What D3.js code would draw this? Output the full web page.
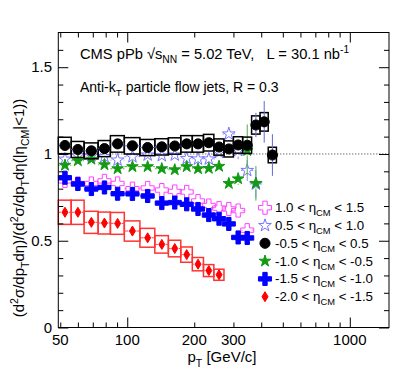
<!DOCTYPE html>
<html>
<head>
<meta charset="utf-8">
<script src="https://cdn.jsdelivr.net/npm/d3@7"></script>
<style>
  body { margin: 0; background: #fff; }
  svg { display: block; font-family: "Liberation Sans", Arial, Helvetica, sans-serif; }
</style>
</head>
<body>
<svg id="chart" width="399" height="383"></svg>
<script>
// pT bin edges (GeV/c)
var ptEdges = [49, 56, 64, 74, 84, 97, 114, 133, 153, 174, 196, 220, 245, 272, 300, 330, 362, 395, 430, 468];

// ratios to |eta_CM| < 1, one array per eta_CM window
var ratioP10 = [0.845, 0.83, 0.83, 0.845, 0.83, 0.80, 0.804, 0.792, 0.784, 0.781, 0.729, 0.703, 0.688, 0.683, 0.674, 0.561];
var errP10   = [0.005, 0.005, 0.005, 0.005, 0.005, 0.005, 0.005, 0.005, 0.005, 0.006, 0.007, 0.008, 0.01, 0.012, 0.015, 0.025];

var ratioP05 = [0.97, 0.99, 0.99, 0.985, 0.965, 0.984, 0.994, 0.99, 0.994, 0.974, 0.971, 0.971, 1.009, 1.115, 1.02, 0.905, 0.827];
var errP05   = [0.005, 0.005, 0.005, 0.005, 0.005, 0.005, 0.005, 0.005, 0.005, 0.006, 0.007, 0.008, 0.015, 0.04, 0.05, 0.06, 0.08];

var ratio0   = [1.049, 1.026, 1.018, 1.031, 1.058, 1.047, 1.037, 1.041, 1.046, 1.058, 1.058, 1.065, 1.040, 1.029, 1.052, 1.05, 1.167, 1.185, 0.994];
var err0     = [0.005, 0.005, 0.005, 0.005, 0.005, 0.005, 0.005, 0.005, 0.005, 0.006, 0.007, 0.008, 0.01, 0.012, 0.02, 0.03, 0.07, 0.12, 0.12];

var ratioM10 = [0.935, 0.961, 0.970, 0.938, 0.915, 0.927, 0.927, 0.915, 0.909, 0.927, 0.915, 0.917, 0.929, 0.830, 0.857, 1.020, 0.831];
var errM10   = [0.005, 0.005, 0.005, 0.005, 0.005, 0.005, 0.005, 0.005, 0.005, 0.006, 0.007, 0.008, 0.012, 0.03, 0.035, 0.15, 0.1];

var ratioM15 = [0.863, 0.827, 0.798, 0.807, 0.771, 0.770, 0.758, 0.717, 0.720, 0.710, 0.683, 0.648, 0.627, 0.597, 0.519, 0.516];
var errM15   = [0.005, 0.005, 0.005, 0.005, 0.005, 0.005, 0.005, 0.005, 0.005, 0.006, 0.007, 0.008, 0.01, 0.012, 0.02, 0.04];

var ratioM20 = [0.664, 0.664, 0.606, 0.602, 0.600, 0.556, 0.517, 0.479, 0.455, 0.420, 0.365, 0.328, 0.304];
var errM20   = [0.005, 0.005, 0.005, 0.005, 0.005, 0.005, 0.005, 0.005, 0.005, 0.006, 0.007, 0.008, 0.01];

// axis ticks
var xMinorTicks = [50, 60, 70, 80, 90, 200, 300, 400, 500, 600, 700, 800, 900];
var xMajorTicks = [100, 1000];
var xTickLabels = [50, 100, 200, 300, 1000];
var yMinorTicks = [0.1, 0.2, 0.3, 0.4, 0.6, 0.7, 0.8, 0.9, 1.1, 1.2, 1.3, 1.4, 1.6];
var yMajorTicks = [0, 0.5, 1, 1.5];

var legendLabels = [
  ["1.0 < \u03b7", "CM", " < 1.5"],
  ["0.5 < \u03b7", "CM", " < 1.0"],
  ["-0.5 < \u03b7", "CM", " < 0.5"],
  ["-1.0 < \u03b7", "CM", " < -0.5"],
  ["-1.5 < \u03b7", "CM", " < -1.0"],
  ["-2.0 < \u03b7", "CM", " < -1.5"]
];

var W = 399, H = 383;
var padL = 58.3, padR = 389, padT = 32.5, padB = 327.5;

var x = d3.scaleLog().domain([49, 1500]).range([padL, padR]);
var y = d3.scaleLinear().domain([0, 1.7]).range([padB, padT]);

var svg = d3.select('#chart');
svg.append('rect').attr('width', W).attr('height', H).attr('fill', '#fff');

// marker shapes
var shapes = {
  circle:  d3.symbol().type(d3.symbolCircle).size(80)(),
  cross:   d3.symbol().type(d3.symbolCross).size(95)(),
  ocross:  d3.symbol().type(d3.symbolCross).size(95)(),
  star:    d3.symbol().type(d3.symbolStar).size(50)(),
  fstar:   d3.symbol().type(d3.symbolStar).size(42)(),
  diamond: 'M0,-5L3,0L0,5L-3,0Z'
};

var series = [
  { vals: ratioP10, errs: errP10, shape: 'ocross', fill: 'none', stroke: '#ff44ff', line: '#ff77ff', gap: 6 },
  { vals: ratioP05, errs: errP05, shape: 'star', fill: 'none', stroke: '#7474ff', line: '#8a8aff', gap: 6 },
  { vals: ratioM10, errs: errM10, shape: 'fstar', fill: '#129a12', stroke: '#129a12', line: '#4fae4f', gap: 5 },
  { vals: ratioM15, errs: errM15, shape: 'cross', fill: '#0000ff', stroke: '#0000ff', line: '#3030ff', gap: 5 },
  { vals: ratioM20, errs: errM20, shape: 'diamond', fill: '#ff0000', stroke: '#ff0000', line: '#ff4444', gap: 4, sys: 0.105, box: '#ff3333' },
  { vals: ratio0, errs: err0, shape: 'circle', fill: '#000', stroke: '#000', line: '#5f68d2', gap: 5, sys: 0.045, box: '#000' }
];

// reference line at 1
svg.append('line')
  .attr('x1', padL).attr('x2', padR)
  .attr('y1', y(1)).attr('y2', y(1))
  .attr('stroke', '#333').attr('stroke-width', 1)
  .attr('stroke-dasharray', '1,2');

function drawSeries(s) {
  var pts = s.vals.map(function (v, i) {
    return { lo: ptEdges[i], hi: ptEdges[i + 1], v: v, e: s.errs[i], c: (ptEdges[i] + ptEdges[i + 1]) / 2 };
  });
  var g = svg.append('g');

  if (s.sys) {
    g.selectAll('rect').data(pts).enter().append('rect')
      .attr('x', function (d) { return x(d.lo); })
      .attr('width', function (d) { return x(d.hi) - x(d.lo); })
      .attr('y', function (d) { return y(d.v * (1 + s.sys)); })
      .attr('height', function (d) { return y(d.v * (1 - s.sys)) - y(d.v * (1 + s.sys)); })
      .attr('fill', 'none')
      .attr('stroke', s.box)
      .attr('stroke-width', 1.5);
  }

  // error bars, with a gap round the marker
  var segs = [];
  pts.forEach(function (d) {
    var cx = x(d.c), cy = y(d.v);
    segs.push([x(d.lo), cy, cx - s.gap, cy]);
    segs.push([cx + s.gap, cy, x(d.hi), cy]);
    if (y(d.v + d.e) < cy - s.gap) {
      segs.push([cx, y(d.v + d.e), cx, cy - s.gap]);
      segs.push([cx, cy + s.gap, cx, y(d.v - d.e)]);
    }
  });
  g.selectAll('line').data(segs).enter().append('line')
    .attr('x1', function (d) { return d[0]; })
    .attr('y1', function (d) { return d[1]; })
    .attr('x2', function (d) { return d[2]; })
    .attr('y2', function (d) { return d[3]; })
    .attr('stroke', s.line)
    .attr('stroke-width', 1);

  g.selectAll('path').data(pts).enter().append('path')
    .attr('d', shapes[s.shape])
    .attr('transform', function (d) { return 'translate(' + x(d.c) + ',' + y(d.v) + ')'; })
    .attr('fill', s.fill)
    .attr('stroke', s.stroke)
    .attr('stroke-width', 1);
}

series.forEach(drawSeries);

// frame
svg.append('rect')
  .attr('x', padL).attr('y', padT)
  .attr('width', padR - padL).attr('height', padB - padT)
  .attr('fill', 'none').attr('stroke', '#000').attr('stroke-width', 1);

// ticks on all four sides, pointing inward
function ticks(axis, vals, len, pos) {
  var g = svg.append('g').attr('transform', pos)
    .call(axis.tickValues(vals).tickSizeInner(-len).tickSizeOuter(0).tickFormat(''));
  g.select('.domain').remove();
  g.selectAll('line').attr('stroke', '#000').attr('stroke-width', 1);
}
ticks(d3.axisBottom(x), xMinorTicks, 5, 'translate(0,' + padB + ')');
ticks(d3.axisBottom(x), xMajorTicks, 10, 'translate(0,' + padB + ')');
ticks(d3.axisTop(x), xMinorTicks, 5, 'translate(0,' + padT + ')');
ticks(d3.axisTop(x), xMajorTicks, 10, 'translate(0,' + padT + ')');
ticks(d3.axisLeft(y), yMinorTicks, 5, 'translate(' + padL + ',0)');
ticks(d3.axisLeft(y), yMajorTicks, 10, 'translate(' + padL + ',0)');
ticks(d3.axisRight(y), yMinorTicks, 5, 'translate(' + padR + ',0)');
ticks(d3.axisRight(y), yMajorTicks, 10, 'translate(' + padR + ',0)');

// tick labels
svg.append('g').selectAll('text').data(xTickLabels).enter().append('text')
  .attr('x', function (d) { return x(d); })
  .attr('y', 345)
  .attr('text-anchor', 'middle')
  .attr('font-size', 15)
  .text(function (d) { return d; });

svg.append('g').selectAll('text').data(yMajorTicks).enter().append('text')
  .attr('x', 52)
  .attr('y', function (d) { return y(d) + 5; })
  .attr('text-anchor', 'end')
  .attr('font-size', 15)
  .text(function (d) { return d; });

// text with sub/superscripts: parts = [[text, 'sub'|'sup'|null], ...]
function rich(t, parts, size) {
  var off = 0;
  parts.forEach(function (p) {
    var target = p[1] === 'sub' ? size * 0.3 : (p[1] === 'sup' ? -size * 0.4 : 0);
    t.append('tspan')
      .attr('dy', target - off)
      .attr('font-size', p[1] ? size * 0.7 : size)
      .text(p[0]);
    off = target;
  });
  return t;
}

// axis titles
rich(svg.append('text').attr('x', 222).attr('y', 362).attr('text-anchor', 'middle'),
  [['p', null], ['T', 'sub'], [' [GeV/c]', null]], 15);

rich(svg.append('text')
  .attr('transform', 'translate(24,208) rotate(-90)')
  .attr('text-anchor', 'middle'),
  [['(d', null], ['2', 'sup'], ['\u03c3/dp', null], ['T', 'sub'], ['d\u03b7)/(d', null], ['2', 'sup'],
   ['\u03c3/dp', null], ['T', 'sub'], ['d\u03b7(|\u03b7', null], ['CM', 'sub'], ['|<1))', null]], 15);

// header text
rich(svg.append('text').attr('x', 80).attr('y', 59).style('white-space', 'pre'),
  [['CMS pPb \u221a', null], ['s', null], ['NN', 'sub'], [' = 5.02 TeV,   L = 30.1 nb', null], ['-1', 'sup']], 14.7);

rich(svg.append('text').attr('x', 80).attr('y', 91.5),
  [['Anti-k', null], ['T', 'sub'], [' particle flow jets, R = 0.3', null]], 14);

// legend
var legendShapes = ['ocross', 'star', 'circle', 'fstar', 'cross', 'diamond'];
var legendStyle = [series[0], series[1], series[5], series[2], series[3], series[4]];
var legendY = d3.scaleLinear().domain([0, 5]).range([207.7, 296.7]);

var lg = svg.append('g');
legendLabels.forEach(function (lab, i) {
  var s = legendStyle[i];
  lg.append('path')
    .attr('d', shapes[legendShapes[i]])
    .attr('transform', 'translate(265,' + legendY(i) + ')')
    .attr('fill', s.fill)
    .attr('stroke', s.stroke)
    .attr('stroke-width', 1);
  rich(lg.append('text').attr('x', 275).attr('y', legendY(i) + 4.5),
    [[lab[0], null], [lab[1], 'sub'], [lab[2], null]], 13.3);
});
</script>
</body>
</html>
